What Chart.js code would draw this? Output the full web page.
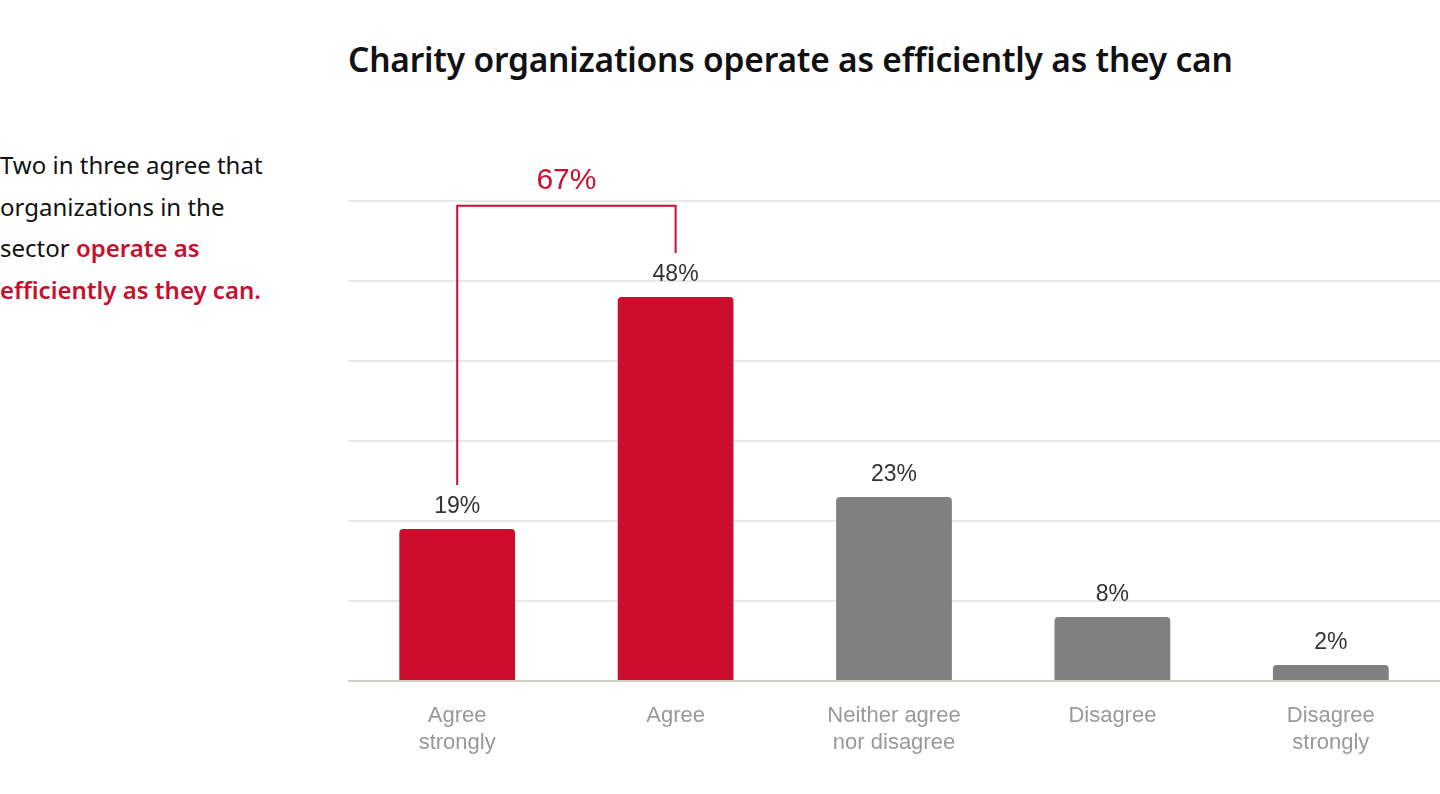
<!DOCTYPE html>
<html>
<head>
<meta charset="utf-8">
<script src="https://cdn.jsdelivr.net/npm/chart.js@4.4.1/dist/chart.umd.min.js"></script>
<style>
  html,body{margin:0;padding:0;background:#fff;width:1440px;height:794px;overflow:hidden;}
  #title{position:absolute;left:348px;top:36px;font-family:"Noto Sans",sans-serif;font-weight:600;font-size:33.5px;color:#111;white-space:nowrap;letter-spacing:-0.2px;}
  #side{position:absolute;left:0;top:144px;width:285px;font-family:"Noto Sans",sans-serif;font-size:24px;line-height:41.5px;color:#111;}
  #side b{color:#c8102e;font-weight:600;}
  #wrap{position:absolute;left:348px;top:0;width:1092px;height:794px;}
</style>
</head>
<body>
<div id="title">Charity organizations operate as efficiently as they can</div>
<div id="side">Two in three agree that organizations in the sector <b>operate as efficiently as they can.</b></div>
<div id="wrap"><canvas id="c"></canvas></div>
<script>
const categories = [["Agree","strongly"],["Agree"],["Neither agree","nor disagree"],["Disagree"],["Disagree","strongly"]];
const values = [19, 48, 23, 8, 2];
const barColors = ["#cc0e2e","#cc0e2e","#808080","#808080","#808080"];
const yTicks = [0,10,20,30,40,50,60];
const bracketFrom = 0, bracketTo = 1;
const bracketLabel = "67%";
const bracketTop = 59.4;
const bracketGap = 5.5;

const labelPlugin = {
  id:'labels',
  afterDatasetsDraw(chart){
    const ctx = chart.ctx;
    const meta = chart.getDatasetMeta(0);
    const ys = chart.scales.y;
    ctx.save();
    ctx.font = '23px "Liberation Sans", Arial, sans-serif';
    ctx.fillStyle = '#333';
    ctx.textAlign = 'center';
    ctx.textBaseline = 'middle';
    meta.data.forEach((bar,i)=>{
      ctx.fillText(values[i] + '%', bar.x, bar.y - 22.5);
    });
    const x1 = meta.data[bracketFrom].x, x2 = meta.data[bracketTo].x;
    const yTop = ys.getPixelForValue(bracketTop);
    const y1 = ys.getPixelForValue(values[bracketFrom] + bracketGap);
    const y2 = ys.getPixelForValue(values[bracketTo] + bracketGap);
    ctx.strokeStyle = '#cc0e2e';
    ctx.lineWidth = 2;
    ctx.beginPath();
    ctx.moveTo(x1, y1); ctx.lineTo(x1, yTop); ctx.lineTo(x2, yTop); ctx.lineTo(x2, y2);
    ctx.stroke();
    ctx.fillStyle = '#cc0e2e';
    ctx.font = '30px "Liberation Sans", Arial, sans-serif';
    ctx.fillText(bracketLabel, (x1+x2)/2, yTop - 25);
    ctx.restore();
  }
};

new Chart(document.getElementById('c'), {
  type:'bar',
  data:{
    labels: categories,
    datasets:[{
      data: values,
      backgroundColor: barColors,
      borderRadius: 4,
      borderSkipped: 'start',
      barPercentage: 0.53,
      categoryPercentage: 1.0
    }]
  },
  options:{
    responsive:true,
    maintainAspectRatio:false,
    animation:false,
    layout:{padding:{top:201,left:0,right:0,bottom:0}},
    plugins:{legend:{display:false},tooltip:{enabled:false}},
    scales:{
      x:{
        grid:{display:false, drawTicks:false},
        border:{display:true,color:'#cfcfc8',width:2},
        ticks:{color:'#999',padding:21,font:{family:'"Liberation Sans", Arial, sans-serif',size:22,lineHeight:1.23},maxRotation:0,autoSkip:false},
        afterFit(s){ s.height = 113; }
      },
      y:{
        min:0,max:60,
        afterBuildTicks(s){ s.ticks = yTicks.map(v=>({value:v})); },
        ticks:{display:false},
        grid:{color:'#e8e8e8',lineWidth:2,drawTicks:false},
        border:{display:false},
        afterFit(s){ s.width = 0; }
      }
    }
  },
  plugins:[labelPlugin]
});
</script>
</body>
</html>
